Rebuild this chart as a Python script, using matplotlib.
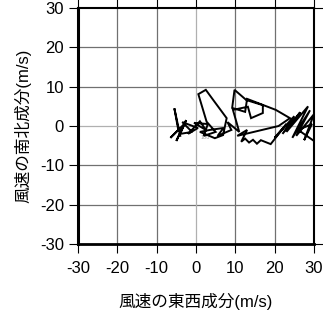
import matplotlib
matplotlib.use("Agg")
import matplotlib.pyplot as plt

plt.rcParams['font.family'] = ['Liberation Sans', 'Noto Sans CJK JP', 'DejaVu Sans']
plt.rcParams['axes.unicode_minus'] = False

# wind components (m/s)
u = [-4.0, -5.5, -4.5, -6.5, -3.0, -5.0, -2.5, -4.0, -1.0, -3.5, 0.5, -2.0, 1.0, 2.5, -0.5,
     3.0, 2.0, 5.0, 2.7, 0.6, 2.5, 4.4, 7.8, 6.9, 4.8, 1.0, 3.5, 7.0, 5.5, 9.0, 8.0, 11.0,
     9.4, 13.2, 14.0, 17.0, 17.0, 12.8, 9.8, 9.2, 12.5, 13.0, 20.3, 23.9, 21.0, 10.5, 13.0,
     11.5, 12.5, 13.5, 14.5, 15.5, 16.5, 17.5, 19.0, 23.0, 20.0, 25.0, 22.0, 26.5, 23.0,
     28.5, 24.5, 29.0, 25.5, 30.0, 27.5, 29.5, 26.0, 30.3]
v = [-2.5, 4.5, -1.0, -3.0, 0.5, -3.8, 1.5, -2.0, -1.5, 1.0, -0.5, -2.0, 1.2, -1.0, 0.8,
     0.5, -2.5, -1.5, 1.1, 8.1, 9.2, 6.6, 2.0, -2.3, -3.1, -1.5, -1.0, -0.5, -2.5, -1.0, 1.0, -1.5,
     4.1, 4.9, 2.0, 3.3, 5.3, 6.6, 9.2, 4.6, 3.6, 6.9, 4.1, 2.0, 0.0, -2.5, -1.0,
     -4.0, -3.2, -4.2, -3.5, -4.5, -3.6, -4.0, -4.6, 0.5, -3.0, 2.5, -2.0, 3.5, -1.5,
     5.0, -3.0, 4.0, -2.5, 3.0, -3.6, 0.5, -1.0, -4.0]
ticks = [-30, -20, -10, 0, 10, 20, 30]

fig = plt.figure(figsize=(3.23, 3.13), dpi=100)
ax = fig.add_axes([0.2415, 0.2204, 0.7305, 0.754])

for t in ticks[1:-1]:
    c = '#b0b0b0' if t == 0 else '#707070'
    ax.axvline(t, color=c, lw=0.9, zorder=1)
    ax.axhline(t, color=c, lw=0.9, zorder=1)

ax.plot(u, v, color='black', lw=1.4, zorder=3, solid_joinstyle='miter')
ax.text(2.3, -2.9, '100', fontsize=4, color='#a0a0a0', ha='center', va='center', zorder=2)

ax.set_xlim(-30, 30)
ax.set_ylim(-30, 30)
ax.set_xticks(ticks)
ax.set_yticks(ticks)
ax.tick_params(axis='both', direction='out', length=6.5, width=0.8, labelsize=12,
               top=True, right=True, labeltop=False, labelright=False)
ax.tick_params(axis='x', pad=6)
ax.tick_params(axis='y', pad=3.5)
ax.spines['left'].set_linewidth(2.2)
ax.spines['bottom'].set_linewidth(2.0)
ax.spines['top'].set_linewidth(1.5)
ax.spines['right'].set_linewidth(1.5)

ax.set_xlabel('風速の東西成分(m/s)', fontsize=12, labelpad=12)
ax.set_ylabel('風速の南北成分(m/s)', fontsize=12, labelpad=6)

fig.savefig('out.png', dpi=100)
